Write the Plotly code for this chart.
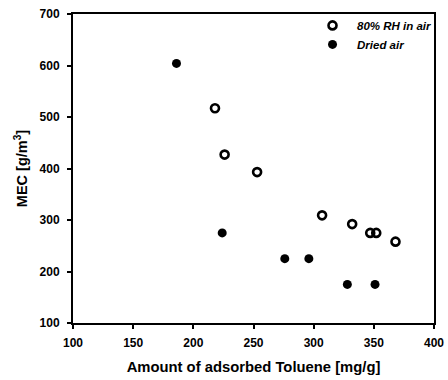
import plotly.graph_objects as go

# Data
rh_x = [218, 226, 253, 307, 332, 347, 352, 368]
rh_y = [517, 427, 393, 309, 292, 275, 275, 258]
dry_x = [186, 224, 276, 296, 328, 351]
dry_y = [604, 275, 225, 225, 175, 175]

x_ticks = [100, 150, 200, 250, 300, 350, 400]
y_ticks = [100, 200, 300, 400, 500, 600, 700]

FONT = "Liberation Sans, Arial, sans-serif"

fig = go.Figure()
fig.add_trace(go.Scatter(
    x=rh_x, y=rh_y, mode="markers", name="<i>80% RH in air</i>",
    marker=dict(symbol="circle-open", size=8, color="black", line=dict(width=2.6, color="black")),
))
fig.add_trace(go.Scatter(
    x=dry_x, y=dry_y, mode="markers", name="<i>Dried air</i>",
    marker=dict(symbol="circle", size=9, color="black"),
))

axis_common = dict(
    showgrid=False, zeroline=False, showline=True, linecolor="black", linewidth=2,
    mirror=True, ticks="outside", ticklen=4, tickwidth=1.5, tickcolor="black",
    tickfont=dict(family=FONT, size=12, color="black", weight="bold"),
    automargin=False,
)

fig.update_layout(
    width=448, height=380,
    margin=dict(l=73, r=11, t=13, b=57),
    paper_bgcolor="white", plot_bgcolor="white",
    font=dict(family=FONT, color="black"),
    xaxis=dict(range=[100, 400], tickvals=x_ticks, ticklabelstandoff=4,
               title=dict(text="<b>Amount of adsorbed Toluene [mg/g]</b>",
                          font=dict(family=FONT, size=14.8, color="black"), standoff=12),
               **axis_common),
    yaxis=dict(range=[100, 700], tickvals=y_ticks, ticklabelstandoff=5,
               title=dict(text="<b>MEC [g/m<sup>3</sup>]</b>",
                          font=dict(family=FONT, size=14.5, color="black"), standoff=8),
               **axis_common),
    legend=dict(x=0.651, y=1.01, xanchor="left", yanchor="top",
                bgcolor="rgba(0,0,0,0)", borderwidth=0,
                font=dict(family=FONT, size=11.5, color="black", weight="bold"),
                tracegroupgap=0, itemwidth=39),
    showlegend=True,
)

fig.write_html("out.html")
